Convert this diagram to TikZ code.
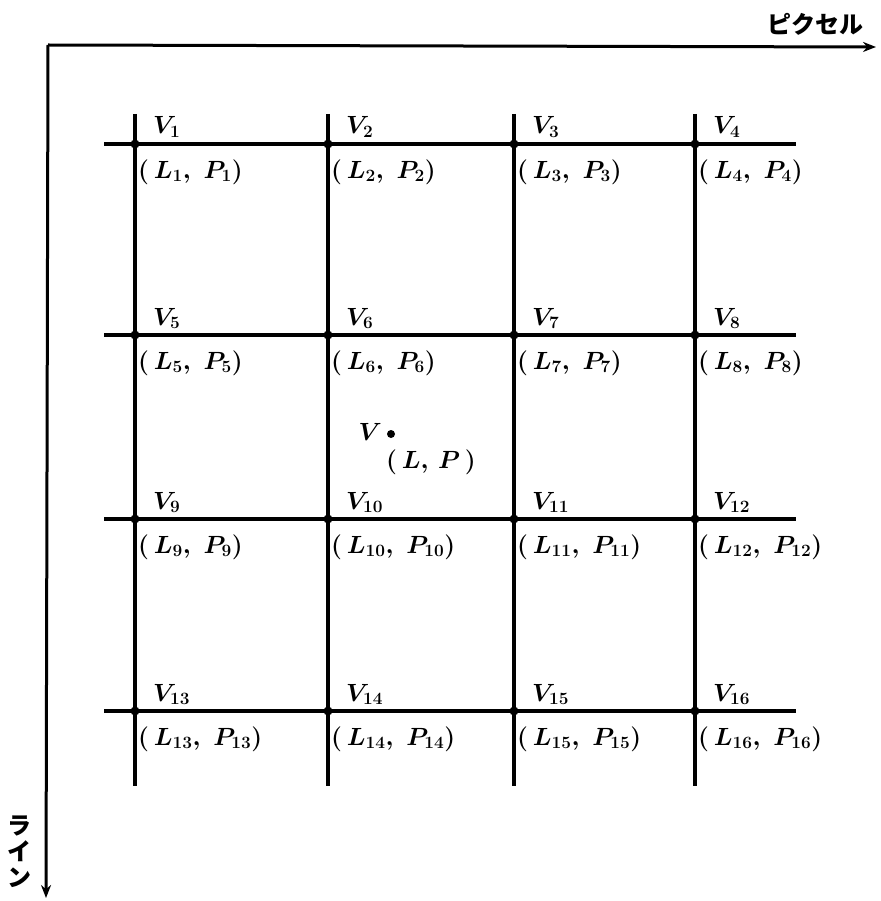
\documentclass[tikz,border=0pt]{standalone}
\usepackage{fontspec}
\newfontfamily\jpfont{Noto Sans CJK JP}
\usetikzlibrary{arrows.meta}
\begin{document}
\begin{tikzpicture}[x=1pt,y=-1pt,
  gridline/.style={line width=3.1pt},
  axisline/.style={line width=3pt,-{Stealth[length=13pt,width=10pt]}},
  vdot/.style={circle,fill=black,inner sep=0pt,minimum size=9pt},
  lfont/.style={font=\fontsize{27}{31}\selectfont\boldmath},
  vlab/.style={lfont,anchor=base west,inner sep=0pt},
  clab/.style={lfont,anchor=west,inner sep=0pt},
  jplab/.style={font=\jpfont\bfseries\fontsize{24}{28}\selectfont,inner sep=0pt}]
\useasboundingbox (0,0) rectangle (880,901);
% axes
\coordinate (o) at (48,45);
\coordinate (xe) at (876,47);
\coordinate (ye) at (46,898);
\draw[axisline] (o) -- (xe);
\draw[axisline] (o) -- (ye);
\node[jplab] (px) at (815,24) {ピクセル};
\node[jplab,align=center] (ln) at (20,852) {ラ\\[-2pt]イ\\[-2pt]ン};
% grid
\def\xa{135}\def\xb{328}\def\xc{514}\def\xd{695}
\def\ya{144}\def\yb{335}\def\yc{519}\def\yd{711}
\foreach \x [count=\i] in {\xa,\xb,\xc,\xd}{
  \coordinate (t\i) at (\x,114);
  \coordinate (b\i) at (\x,786);
  \draw[gridline] (t\i) -- (b\i);
}
\foreach \y [count=\j] in {\ya,\yb,\yc,\yd}{
  \coordinate (l\j) at (104,\y);
  \coordinate (r\j) at (796,\y);
  \draw[gridline] (l\j) -- (r\j);
}
\foreach \y [count=\j] in {\ya,\yb,\yc,\yd}{
  \foreach \x [count=\i] in {\xa,\xb,\xc,\xd}{
    \pgfmathtruncatemacro{\n}{(\j-1)*4+\i}
    \node[vdot] (v\n) at (\x,\y) {};
    \node[vlab] (vl\n) at ([xshift=18pt,yshift=10pt]v\n.center) {$V_{\n}$};
    \node[clab] (cl\n) at ([xshift=3pt,yshift=-28pt]v\n.center) {$(\,L_{\n},\ P_{\n})$};
  }
}
% point V
\node[vdot,minimum size=8pt] (vp) at (391,434) {};
\node[lfont,anchor=east,inner sep=0pt] (vpl) at ([xshift=-9pt,yshift=2pt]vp.center) {$V$};
\node[anchor=west,inner sep=0pt,font=\fontsize{26}{30}\selectfont\boldmath] (vpc) at (386,462) {$(\,L,\,P\,)$};
\end{tikzpicture}
\end{document}
